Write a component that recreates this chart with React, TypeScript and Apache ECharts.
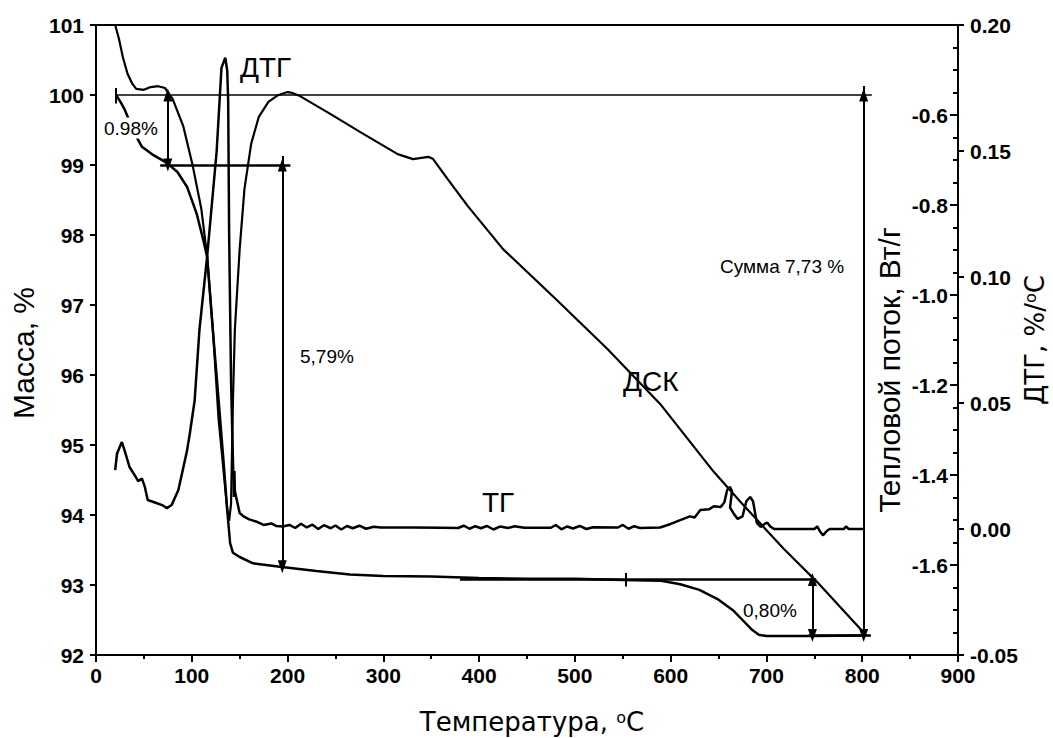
import React, { useEffect, useRef } from "react";
import * as echarts from "echarts";

// ---- Data ----
// TG (mass, %)
const tgTemp = [21, 26, 30, 40, 48, 60, 74, 85, 95, 105, 112, 116, 122, 128, 133, 137, 140, 143, 150, 164, 192, 230, 265, 300, 350, 400, 450, 500, 550, 590, 610, 630, 650, 665, 675, 685, 692, 700, 750, 800];
const tgMass = [100.0, 99.89, 99.79, 99.46, 99.26, 99.14, 99.03, 98.9, 98.69, 98.31, 97.93, 97.69, 96.64, 95.64, 94.79, 94.07, 93.6, 93.46, 93.4, 93.31, 93.26, 93.2, 93.15, 93.13, 93.12, 93.1, 93.09, 93.09, 93.07, 93.06, 93.01, 92.93, 92.79, 92.64, 92.5, 92.36, 92.29, 92.27, 92.27, 92.28];

// DSC (heat flow, W/g)
const dscTemp = [20, 24, 28, 33, 38, 42, 50, 57, 65, 72, 80, 91, 101, 110, 116, 122, 128, 133, 137, 139, 141, 143, 145, 150, 155, 162, 170, 180, 190, 200, 205, 213, 245, 276, 315, 331, 347, 352, 367, 388, 425, 480, 534, 589, 645, 673, 718, 753, 801];
const dscFlow = [-0.4, -0.431, -0.471, -0.509, -0.531, -0.542, -0.544, -0.538, -0.536, -0.54, -0.564, -0.624, -0.713, -0.809, -0.913, -1.076, -1.276, -1.387, -1.476, -1.502, -1.464, -1.231, -1.076, -0.898, -0.764, -0.664, -0.604, -0.571, -0.556, -0.549, -0.551, -0.558, -0.598, -0.638, -0.687, -0.698, -0.693, -0.698, -0.742, -0.802, -0.898, -1.009, -1.12, -1.242, -1.393, -1.46, -1.564, -1.638, -1.749];

// DTG (%/°C)
const dtgTemp = [20, 22, 27, 30, 35, 41, 44, 48, 51, 54, 63, 69, 74, 79, 86, 95, 98, 103, 108, 116, 126, 131, 135, 137, 138, 139, 141, 143, 144, 144.5, 145, 150, 155, 160, 167, 175, 183, 188, 195, 202, 208, 214, 220, 226, 232, 238, 245, 250, 256, 262, 268, 275, 282, 290, 297, 330, 360, 378, 384, 390, 396, 402, 408, 415, 422, 430, 437, 447, 475, 480, 486, 492, 498, 505, 512, 519, 545, 550, 556, 562, 568, 589, 600, 610, 620, 625, 631, 640, 645, 652, 656, 659, 662, 664, 662, 666, 670, 675, 679, 683, 686, 690, 694, 698, 701, 704, 708, 750, 753, 756, 759, 763, 766, 781, 783, 786, 801];
const dtgRate = [0.0234, 0.030, 0.0345, 0.031, 0.0246, 0.021, 0.019, 0.020, 0.0167, 0.0115, 0.0103, 0.0095, 0.0083, 0.0095, 0.0155, 0.031, 0.038, 0.051, 0.079, 0.108, 0.150, 0.183, 0.187, 0.182, 0.170, 0.117, 0.059, 0.027, 0.0127, 0.023, 0.015, 0.0063, 0.0048, 0.0038, 0.003, 0.0016, 0.0022, 0.0012, 0.001, 0.0016, 0.0004, 0.0021, 0.0006, 0.0017, 0.0, 0.0015, 0.0003, 0.0014, -0.0002, 0.0012, 0.0003, 0.0013, 0.0001, 0.0009, 0.0006, 0.0006, 0.0005, 0.0004, 0.0013, 0.0001, 0.0011, 0.0003, 0.0012, -0.0002, 0.001, 0.0004, 0.0011, 0.0005, 0.0005, 0.0016, -0.0001, 0.001, 0.0002, 0.0012, 0.0, 0.0007, 0.0006, 0.0016, 0.0001, 0.0011, 0.0004, 0.0006, 0.002, 0.0035, 0.005, 0.0046, 0.0075, 0.0078, 0.009, 0.0087, 0.0105, 0.0155, 0.0167, 0.015, 0.0085, 0.006, 0.004, 0.005, 0.011, 0.0127, 0.011, 0.0024, 0.0008, 0.002, 0.0025, 0.001, 0.0, 0.0, 0.001, -0.001, -0.0025, -0.0008, 0.0, 0.0, 0.001, 0.0, 0.0];

// Axis ranges / ticks
const tempRange = [0, 900, 100];
const massRange = [92, 101, 1];
const dtgRange = [-0.05, 0.2, 0.05];
const flowRange = [-1.8, -0.4, 0.2];

// Annotations (data units, mass axis)
const hLines = [
  [20, 810, 100, 1.5],
  [67, 203, 99, 2.5],
  [380, 752, 93.08, 2.5],
  [744, 809, 92.28, 2.5],
];
const arrows = [
  [75, 100, 99],
  [194.5, 99, 93.26],
  [748, 93.08, 92.28],
  [801.5, 100, 92.28],
];
const ticks = [
  [21, 100.1, 99.88],
  [194.5, 99.13, 99],
  [553, 93.17, 92.98],
  [801.5, 100.13, 100],
];

const zip = (a: number[], b: number[]) => a.map((v, i) => [v, b[i]]);

export default function App() {
  const ref = useRef<HTMLDivElement>(null);
  useEffect(() => {
    document.body.style.margin = "0";
    const chart = echarts.init(ref.current!, null, { renderer: "svg" });
    const tickFont = { fontFamily: "Liberation Sans", fontWeight: "bold" as const, fontSize: 21, color: "#000" };
    const blackLine = { color: "#000", width: 2 };

    const markData: any[] = [];
    hLines.forEach(([a, b, y, w]) =>
      markData.push([
        { coord: [a, y], symbol: "none", lineStyle: { width: w, color: "#000", type: "solid" } },
        { coord: [b, y], symbol: "none" },
      ])
    );
    ticks.forEach(([x, y1, y2]) =>
      markData.push([
        { coord: [x, y1], symbol: "none", lineStyle: { width: 2, color: "#000", type: "solid" } },
        { coord: [x, y2], symbol: "none" },
      ])
    );
    arrows.forEach(([x, y1, y2]) =>
      markData.push([
        { coord: [x, y1], symbol: "triangle", symbolSize: [9, 13], lineStyle: { width: 2, color: "#000", type: "solid" } },
        { coord: [x, y2], symbol: "triangle", symbolSize: [9, 13] },
      ])
    );

    const annFont = { fontFamily: "Liberation Sans", fontSize: 19, fill: "#000" };
    const bigFont = { fontFamily: "Liberation Sans", fontSize: 28, fill: "#000" };

    chart.setOption({
      animation: false,
      backgroundColor: "#fff",
      grid: { left: 96, right: 95, top: 25, bottom: 83, show: true, borderColor: "#000", borderWidth: 2, backgroundColor: "transparent" },
      xAxis: {
        type: "value",
        min: tempRange[0],
        max: tempRange[1],
        interval: tempRange[2],
        axisLine: { onZero: false, lineStyle: blackLine },
        axisTick: { length: 7, lineStyle: blackLine },
        minorTick: { show: true, splitNumber: 2, length: 4, lineStyle: blackLine },
        splitLine: { show: false },
        axisLabel: { ...tickFont, margin: 10 },
      },
      yAxis: [
        {
          type: "value",
          position: "left",
          min: massRange[0],
          max: massRange[1],
          interval: massRange[2],
          axisLine: { show: true, onZero: false, lineStyle: blackLine },
          axisTick: { show: true, length: 6, lineStyle: blackLine },
          splitLine: { show: false },
          axisLabel: { ...tickFont, margin: 12 },
        },
        {
          type: "value",
          position: "right",
          min: dtgRange[0],
          max: dtgRange[1],
          interval: dtgRange[2],
          axisLine: { show: true, onZero: false, lineStyle: blackLine },
          axisTick: { show: true, length: 6, lineStyle: blackLine },
          splitLine: { show: false },
          axisLabel: { ...tickFont, margin: 12, formatter: (v: number) => v.toFixed(2) },
        },
        {
          type: "value",
          position: "right",
          min: flowRange[0],
          max: flowRange[1],
          interval: flowRange[2],
          axisLine: { show: false, onZero: false },
          axisTick: { show: true, inside: true, length: 8, lineStyle: blackLine },
          minorTick: { show: true, splitNumber: 4, length: 5, lineStyle: blackLine },
          splitLine: { show: false },
          axisLabel: {
            ...tickFont,
            inside: true,
            margin: 10,
            formatter: (v: number) =>
              Math.abs(v - flowRange[0]) < 1e-6 || Math.abs(v - flowRange[1]) < 1e-6 ? "" : v.toFixed(1),
          },
        },
      ],
      series: [
        {
          name: "ТГ",
          type: "line",
          yAxisIndex: 0,
          data: zip(tgTemp, tgMass),
          showSymbol: false,
          lineStyle: { color: "#000", width: 2.5 },
          markLine: { silent: true, animation: false, label: { show: false }, data: markData },
        },
        {
          name: "ДСК",
          type: "line",
          yAxisIndex: 2,
          data: zip(dscTemp, dscFlow),
          showSymbol: false,
          lineStyle: { color: "#000", width: 2.2 },
        },
        {
          name: "ДТГ",
          type: "line",
          yAxisIndex: 1,
          data: zip(dtgTemp, dtgRate),
          showSymbol: false,
          lineStyle: { color: "#000", width: 2.5 },
        },
      ],
      graphic: [
        { type: "text", z: 100, x: 104, y: 128, style: { ...annFont, text: "0.98%", verticalAlign: "middle", backgroundColor: "#fff", padding: [1, 0] } },
        { type: "text", z: 100, x: 300, y: 356, style: { ...annFont, text: "5,79%", verticalAlign: "middle" } },
        { type: "text", z: 100, x: 720, y: 266, style: { ...annFont, text: "Сумма 7,73 %", verticalAlign: "middle" } },
        { type: "text", z: 100, x: 743, y: 610, style: { ...annFont, text: "0,80%", verticalAlign: "middle" } },
        { type: "text", z: 100, x: 240, y: 67, style: { ...bigFont, text: "ДТГ", verticalAlign: "middle" } },
        { type: "text", z: 100, x: 482, y: 502, style: { ...bigFont, text: "ТГ", verticalAlign: "middle" } },
        { type: "text", z: 100, x: 623, y: 381, style: { ...bigFont, text: "ДСК", verticalAlign: "middle" } },
        {
          type: "text", z: 100, x: 532, y: 722,
          style: {
            text: "Температура, {s|o}C", fontFamily: "DejaVu Sans", fontSize: 26, fill: "#000",
            align: "center", verticalAlign: "middle",
            rich: { s: { fontFamily: "DejaVu Sans", fontSize: 16, verticalAlign: "top", fill: "#000" } },
          },
        },
        {
          type: "text", z: 100, x: 23, y: 353, rotation: Math.PI / 2,
          style: { text: "Масса, %", fontFamily: "Liberation Sans", fontSize: 30, fill: "#000", align: "center", verticalAlign: "middle" },
        },
        {
          type: "text", z: 100, x: 889, y: 370, rotation: Math.PI / 2,
          style: { text: "Тепловой поток, Вт/г", fontFamily: "Liberation Sans", fontSize: 30, fill: "#000", align: "center", verticalAlign: "middle" },
        },
        {
          type: "text", z: 100, x: 1035, y: 340, rotation: Math.PI / 2,
          style: {
            text: "ДТГ, %/{s|o}C", fontFamily: "DejaVu Sans", fontSize: 26, fill: "#000",
            align: "center", verticalAlign: "middle",
            rich: { s: { fontFamily: "DejaVu Sans", fontSize: 16, verticalAlign: "top", fill: "#000" } },
          },
        },
      ],
    });
    return () => chart.dispose();
  }, []);
  return <div ref={ref} style={{ width: 1053, height: 738 }} />;
}
